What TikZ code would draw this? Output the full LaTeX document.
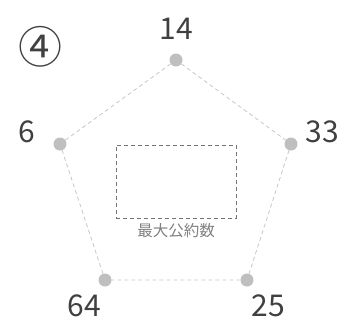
\documentclass[tikz,border=0pt]{standalone}
\usepackage{fontspec}
\setmainfont{Noto Sans CJK JP}
\begin{document}
\begin{tikzpicture}[x=1pt,y=-1pt,
  vdot/.style={circle,fill=black!25,inner sep=0pt,minimum size=13pt},
  edge/.style={draw=black!22,line width=0.8pt,dash pattern=on 4pt off 3pt},
  num/.style={text=black!75,font=\fontsize{30}{30}\selectfont,inner sep=0pt},
  ansbox/.style={draw=black!55,line width=0.9pt,dash pattern=on 4pt off 3pt,minimum width=120pt,minimum height=73pt,inner sep=0pt},
  boxcap/.style={text=black!50,font=\fontsize{15.5}{15.5}\selectfont,inner sep=0pt}]
\useasboundingbox (0,0) rectangle (348,322);
\node[vdot] (a) at (176,60) {};
\node[vdot] (b) at (291,144) {};
\node[vdot] (c) at (247,280) {};
\node[vdot] (d) at (105,280) {};
\node[vdot] (e) at (60,144) {};
\draw[edge] (a) -- (b) -- (c) -- (d) -- (e) -- (a);
\node[num] (la) at (176,29) {14};
\node[num] (lb) at (322,132) {33};
\node[num] (lc) at (268,306) {25};
\node[num] (ld) at (84,306) {64};
\node[num] (le) at (27,132) {6};
\node[num,font=\fontsize{44}{44}\selectfont] (q) at (41,47) {④};
\node[ansbox] (box) at (176,181.5) {};
\node[boxcap,anchor=center] (boxlab) at (176,231) {最大公約数};
\end{tikzpicture}
\end{document}
